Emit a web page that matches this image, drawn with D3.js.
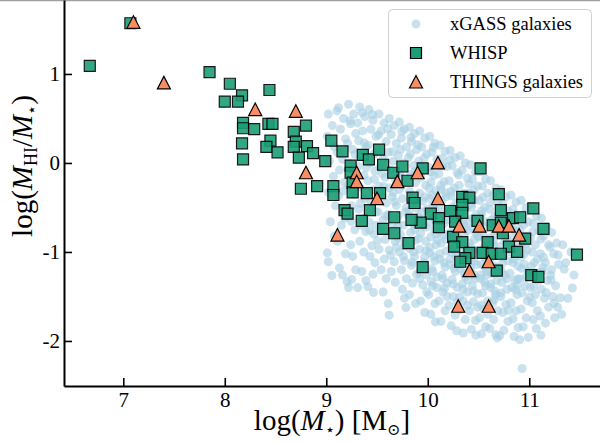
<!DOCTYPE html>
<html>
<head>
<meta charset="utf-8">
<script src="https://cdn.jsdelivr.net/npm/d3@7"></script>
<style>
  body { margin: 0; background: #fff; }
  svg { display: block; overflow: hidden; }
  .axis path, .axis line { stroke: #000; }
  .axis text { font-family: "Liberation Serif", "DejaVu Serif", serif; font-size: 21px; fill: #000; }
  .label text { font-family: "Liberation Serif", "DejaVu Serif", serif; fill: #000; }
  .legend text { font-family: "Liberation Serif", "DejaVu Serif", serif; font-size: 18.5px; fill: #000; }
</style>
</head>
<body>
<div id="chart"></div>
<script>
// xGASS galaxies: [log M*, log(MHI/M*)]
const xgass = [
  [9.02,0.55],[9.06,0.42],[9.01,0.30],[9.08,0.18],[9.03,0.02],[9.07,-0.15],[9.02,-0.33],[9.09,-0.48],[9.04,-0.66],[9.01,-1.01],[9.02,-1.11],[9.08,-0.82],
  [9.12,0.62],[9.17,0.50],[9.14,0.38],[9.19,0.27],[9.11,0.12],[9.16,0.04],[9.13,-0.08],[9.18,-0.22],[9.12,-0.37],[9.17,-0.52],[9.15,-0.70],[9.11,-0.88],[9.19,-1.02],[9.16,-1.26],[9.13,-1.18],[9.18,-0.62],
  [9.22,0.66],[9.27,0.55],[9.24,0.44],[9.29,0.33],[9.21,0.22],[9.26,0.15],[9.23,0.00],[9.28,-0.10],[9.22,-0.25],[9.27,-0.35],[9.25,-0.48],[9.21,-0.60],[9.28,-0.75],[9.24,-0.92],[9.26,-1.05],[9.25,-1.31],[9.29,-1.20],[9.22,-1.40],
  [9.33,0.63],[9.38,0.52],[9.31,0.45],[9.36,0.36],[9.32,0.25],[9.39,0.18],[9.34,0.08],[9.31,-0.04],[9.37,-0.14],[9.33,-0.27],[9.38,-0.40],[9.32,-0.52],[9.36,-0.63],[9.39,-0.77],[9.33,-0.88],[9.37,-1.00],[9.31,-1.40],[9.35,-1.22],[9.39,-1.32],[9.34,-0.70],
  [9.42,0.60],[9.46,0.48],[9.44,0.38],[9.49,0.30],[9.41,0.20],[9.47,0.10],[9.43,0.00],[9.48,-0.09],[9.41,-0.20],[9.46,-0.30],[9.44,-0.43],[9.49,-0.55],[9.42,-0.66],[9.47,-0.80],[9.45,-0.93],[9.48,-1.12],[9.41,-1.39],[9.43,-1.05],[9.46,-1.25],[9.49,-0.70],
  [9.52,0.55],[9.57,0.45],[9.54,0.36],[9.59,0.24],[9.51,0.14],[9.56,0.05],[9.53,-0.05],[9.58,-0.16],[9.52,-0.26],[9.55,-0.36],[9.59,-0.45],[9.51,-0.55],[9.56,-0.64],[9.53,-0.75],[9.58,-0.86],[9.52,-0.97],[9.57,-1.08],[9.54,-1.20],[9.59,-1.30],[9.56,-1.45],[9.51,-0.42],[9.55,-0.12],
  [9.62,0.50],[9.67,0.42],[9.64,0.32],[9.69,0.22],[9.61,0.12],[9.66,0.02],[9.63,-0.08],[9.68,-0.18],[9.62,-0.28],[9.65,-0.38],[9.69,-0.48],[9.61,-0.58],[9.66,-0.68],[9.63,-0.78],[9.68,-0.88],[9.62,-0.98],[9.67,-1.11],[9.64,-1.22],[9.68,-1.34],[9.61,-1.58],[9.62,-1.71],[9.66,-0.33],[9.64,-0.62],[9.69,-0.95],
  [9.72,0.46],[9.77,0.38],[9.74,0.28],[9.79,0.18],[9.71,0.08],[9.76,0.00],[9.73,-0.10],[9.78,-0.20],[9.72,-0.30],[9.75,-0.40],[9.79,-0.50],[9.71,-0.60],[9.76,-0.70],[9.73,-0.80],[9.78,-0.90],[9.72,-1.00],[9.77,-1.10],[9.74,-1.20],[9.79,-1.30],[9.75,-1.42],[9.78,-0.55],[9.74,-0.25],[9.71,-0.85],[9.76,-1.05],[9.73,0.15],[9.77,-1.52],
  [9.82,0.40],[9.87,0.33],[9.84,0.24],[9.89,0.15],[9.81,0.06],[9.86,-0.03],[9.83,-0.13],[9.88,-0.22],[9.82,-0.32],[9.85,-0.41],[9.89,-0.51],[9.81,-0.60],[9.86,-0.69],[9.83,-0.78],[9.88,-0.87],[9.82,-0.96],[9.87,-1.05],[9.84,-1.15],[9.89,-1.25],[9.85,-1.35],[9.82,-1.48],[9.88,-1.58],[9.84,-0.45],[9.87,-0.75],[9.81,-0.20],[9.86,-1.00],[9.83,0.10],[9.89,-0.62],
  [9.92,0.36],[9.97,0.28],[9.94,0.18],[9.99,0.10],[9.91,0.02],[9.96,-0.07],[9.93,-0.16],[9.98,-0.25],[9.92,-0.34],[9.95,-0.43],[9.99,-0.52],[9.91,-0.61],[9.96,-0.70],[9.93,-0.79],[9.98,-0.88],[9.92,-0.97],[9.97,-1.06],[9.94,-1.16],[9.99,-1.26],[9.95,-1.37],[9.99,-1.45],[9.93,-1.55],[9.97,-1.68],[9.94,-0.55],[9.97,-0.38],[9.91,-0.85],[9.96,-1.12],[9.94,-0.05],[9.98,-0.72],[9.92,-1.30],
  [10.02,0.30],[10.07,0.22],[10.04,0.12],[10.09,0.04],[10.01,-0.05],[10.06,-0.14],[10.03,-0.22],[10.08,-0.31],[10.02,-0.40],[10.05,-0.48],[10.09,-0.57],[10.01,-0.66],[10.06,-0.74],[10.03,-0.83],[10.08,-0.92],[10.02,-1.01],[10.07,-1.10],[10.04,-1.19],[10.09,-1.28],[10.05,-1.38],[10.01,-1.48],[10.07,-1.58],[10.03,-1.70],[10.06,-0.62],[10.04,-0.36],[10.08,-0.80],[10.02,-0.95],[10.06,-1.05],[10.09,-1.40],[10.03,-0.10],[10.07,-0.52],[10.05,-1.22],
  [10.12,0.20],[10.17,0.13],[10.14,0.05],[10.19,-0.04],[10.11,-0.12],[10.16,-0.21],[10.13,-0.30],[10.18,-0.38],[10.12,-0.47],[10.15,-0.55],[10.19,-0.64],[10.11,-0.72],[10.16,-0.81],[10.13,-0.90],[10.18,-0.99],[10.12,-1.08],[10.17,-1.17],[10.14,-1.26],[10.19,-1.35],[10.15,-1.45],[10.11,-1.55],[10.17,-1.66],[10.13,-1.78],[10.16,-0.68],[10.14,-0.42],[10.18,-0.86],[10.12,-1.02],[10.16,-1.12],[10.19,-1.50],[10.13,-0.25],[10.17,-0.60],[10.15,-1.30],
  [10.22,0.14],[10.27,0.06],[10.24,-0.03],[10.29,-0.11],[10.21,-0.20],[10.26,-0.28],[10.23,-0.37],[10.28,-0.45],[10.22,-0.54],[10.25,-0.62],[10.29,-0.71],[10.21,-0.79],[10.26,-0.88],[10.23,-0.96],[10.28,-1.05],[10.22,-1.14],[10.27,-1.22],[10.24,-1.31],[10.29,-1.40],[10.25,-1.50],[10.21,-1.60],[10.27,-1.71],[10.23,-1.83],[10.26,-0.75],[10.24,-0.50],[10.28,-0.92],[10.22,-1.08],[10.26,-1.18],[10.29,-1.56],[10.23,-0.32],[10.27,-0.66],[10.25,-1.36],
  [10.32,0.08],[10.37,0.00],[10.34,-0.08],[10.39,-0.17],[10.31,-0.25],[10.36,-0.34],[10.33,-0.42],[10.38,-0.51],[10.32,-0.59],[10.35,-0.68],[10.39,-0.76],[10.31,-0.85],[10.36,-0.93],[10.33,-1.02],[10.38,-1.10],[10.32,-1.19],[10.37,-1.28],[10.34,-1.36],[10.39,-1.45],[10.35,-1.55],[10.31,-1.65],[10.37,-1.76],[10.35,-1.91],[10.36,-0.80],[10.34,-0.55],[10.38,-0.98],[10.32,-1.14],[10.36,-1.24],[10.39,-1.60],[10.33,-0.38],[10.37,-0.72],[10.35,-1.42],
  [10.42,-0.02],[10.47,-0.10],[10.44,-0.18],[10.49,-0.26],[10.41,-0.34],[10.46,-0.42],[10.43,-0.50],[10.48,-0.58],[10.42,-0.66],[10.45,-0.74],[10.49,-0.82],[10.41,-0.90],[10.46,-0.98],[10.43,-1.06],[10.48,-1.14],[10.42,-1.22],[10.47,-1.30],[10.44,-1.38],[10.49,-1.47],[10.45,-1.56],[10.41,-1.66],[10.47,-1.77],[10.43,-1.87],[10.46,-0.86],[10.44,-0.62],[10.48,-1.02],[10.42,-1.18],[10.46,-1.26],[10.49,-1.62],[10.43,-0.46],[10.47,-0.78],[10.45,-1.44],
  [10.52,-0.10],[10.57,-0.18],[10.54,-0.26],[10.59,-0.34],[10.51,-0.42],[10.56,-0.50],[10.53,-0.58],[10.58,-0.66],[10.52,-0.74],[10.55,-0.82],[10.59,-0.90],[10.51,-0.98],[10.56,-1.06],[10.53,-1.14],[10.58,-1.22],[10.52,-1.30],[10.57,-1.38],[10.54,-1.46],[10.59,-1.55],[10.55,-1.64],[10.51,-1.74],[10.57,-1.84],[10.53,-1.92],[10.56,-0.94],[10.54,-0.70],[10.58,-1.10],[10.52,-1.26],[10.56,-1.34],[10.59,-1.70],[10.53,-0.54],
  [10.62,-0.20],[10.67,-0.28],[10.64,-0.36],[10.69,-0.44],[10.61,-0.52],[10.66,-0.60],[10.63,-0.68],[10.68,-0.76],[10.62,-0.84],[10.65,-0.92],[10.69,-1.00],[10.61,-1.08],[10.66,-1.16],[10.63,-1.24],[10.68,-1.32],[10.62,-1.40],[10.67,-1.48],[10.64,-1.57],[10.69,-1.66],[10.65,-1.76],[10.61,-1.86],[10.67,-1.93],[10.64,-1.02],[10.66,-0.80],[10.68,-1.20],[10.62,-1.36],[10.66,-1.44],[10.63,-0.64],
  [10.72,-0.30],[10.77,-0.38],[10.74,-0.46],[10.79,-0.54],[10.71,-0.62],[10.76,-0.70],[10.73,-0.78],[10.78,-0.86],[10.72,-0.94],[10.75,-1.02],[10.79,-1.10],[10.71,-1.18],[10.76,-1.26],[10.73,-1.34],[10.78,-1.42],[10.72,-1.50],[10.77,-1.59],[10.74,-1.68],[10.79,-1.78],[10.75,-1.88],[10.71,-1.94],[10.74,-1.06],[10.76,-0.88],[10.78,-1.30],[10.72,-1.46],[10.77,-0.66],
  [10.82,-0.36],[10.87,-0.44],[10.84,-0.52],[10.89,-0.60],[10.81,-0.68],[10.86,-0.76],[10.83,-0.84],[10.88,-0.92],[10.82,-1.00],[10.85,-1.08],[10.89,-1.16],[10.81,-1.24],[10.86,-1.32],[10.83,-1.40],[10.88,-1.48],[10.82,-1.57],[10.87,-1.66],[10.84,-1.75],[10.89,-1.85],[10.85,-1.95],[10.84,-1.12],[10.86,-0.96],[10.88,-1.38],[10.83,-0.72],
  [10.92,-0.42],[10.97,-0.50],[10.94,-0.58],[10.99,-0.66],[10.91,-0.74],[10.96,-0.82],[10.93,-0.90],[10.98,-0.98],[10.92,-1.06],[10.95,-1.14],[10.99,-1.22],[10.91,-1.30],[10.96,-1.38],[10.93,-1.46],[10.98,-1.55],[10.92,-1.64],[10.97,-1.74],[10.94,-1.84],[10.99,-1.96],[10.93,-2.31],[10.95,-1.02],[10.97,-1.28],
  [11.02,-0.52],[11.07,-0.60],[11.04,-0.68],[11.09,-0.76],[11.01,-0.84],[11.06,-0.92],[11.03,-1.00],[11.08,-1.08],[11.02,-1.16],[11.05,-1.24],[11.09,-1.32],[11.01,-1.40],[11.06,-1.48],[11.03,-1.57],[11.08,-1.66],[11.04,-1.76],[11.07,-1.86],[11.05,-1.12],
  [11.12,-0.62],[11.17,-0.72],[11.14,-0.82],[11.19,-0.92],[11.11,-1.02],[11.16,-1.12],[11.13,-1.22],[11.18,-1.32],[11.12,-1.42],[11.15,-1.52],[11.19,-1.62],[11.11,-1.72],[11.16,-1.80],[11.14,-1.06],
  [11.22,-0.78],[11.27,-0.90],[11.24,-1.02],[11.29,-1.14],[11.21,-1.26],[11.26,-1.38],[11.23,-1.50],[11.28,-1.62],[11.25,-1.74],[11.22,-1.20],
  [11.33,-0.92],[11.41,-1.00],[11.36,-1.12],[11.44,-1.26],[11.38,-1.52],[11.32,-1.70],
  [9.105,0.585],[9.235,0.475],[9.355,0.565],[9.455,0.545],[9.285,0.095],[9.395,-0.055],[9.515,0.315],[9.605,0.385],[9.655,0.125],[9.745,0.355],
  [9.835,0.285],[9.905,0.205],[9.965,0.055],[10.055,0.175],[10.145,-0.035],[10.215,0.035],[10.305,-0.135],[10.405,-0.235],[10.455,-0.305],[10.545,-0.385],
  [10.615,-0.445],[10.705,-0.505],[10.785,-0.605],[10.855,-0.575],[10.945,-0.695],[11.035,-0.775],[11.115,-0.855],[11.205,-0.945],[11.285,-1.035],[11.345,-1.195],
  [9.165,-0.315],[9.245,-0.655],[9.335,-0.455],[9.425,-0.755],[9.505,-0.875],[9.585,-0.595],[9.635,-1.035],[9.705,-0.715],[9.765,-0.935],[9.845,-1.115],
  [9.915,-1.235],[9.985,-0.985],[10.035,-1.335],[10.095,-0.865],[10.165,-1.405],[10.235,-1.005],[10.315,-1.505],[10.395,-1.315],[10.455,-1.105],[10.525,-1.595],
  [10.585,-1.255],[10.655,-1.535],[10.725,-1.215],[10.795,-1.655],[10.865,-1.425],[10.925,-1.185],[11.005,-1.505],[11.085,-1.235],[11.165,-1.455],[11.245,-1.575],
  [9.375,0.225],[9.475,-0.185],[9.565,-0.265],[9.675,-0.435],[9.725,-0.165],[9.815,-0.545],[9.875,-0.095],[9.945,-0.635],[10.015,-0.285],[10.115,-0.775],
  [10.175,-0.335],[10.255,-0.845],[10.345,-0.645],[10.425,-0.945],[10.505,-0.835],[10.565,-1.175],[10.645,-0.885],[10.735,-1.125],[10.815,-0.935],[10.885,-1.305],
  [10.965,-0.915],[11.045,-1.385],[11.135,-1.175],[11.215,-1.315],
  [9.055,-1.265],[9.205,-1.335],[9.465,-1.455],[9.785,-1.625],[10.075,-1.785],[10.285,-1.885],[10.475,-1.935],[10.685,-1.965],[10.905,-1.985],[11.115,-1.935],
  [11.305,-1.515],[11.425,-1.405]
];

// WHISP galaxies
const whisp = [
  [6.67,1.09],[7.07,1.57],[7.85,1.02],[8.05,0.89],[8.17,0.76],[8.00,0.69],[8.13,0.69],[8.44,0.82],
  [8.18,0.45],[8.18,0.39],[8.29,0.38],[8.43,0.44],[8.47,0.44],[8.68,0.35],[8.80,0.42],[8.17,0.22],
  [8.45,0.25],[8.41,0.18],[8.52,0.12],[8.18,0.04],[8.70,0.24],[8.68,0.18],[8.81,0.19],[8.87,0.11],
  [8.73,0.06],[9.05,0.25],[9.16,0.13],[8.99,0.02],[8.75,-0.29],[8.91,-0.26],[9.07,-0.26],[9.07,-0.36],
  [9.24,-0.03],[9.24,-0.11],[9.36,0.09],[9.42,0.04],[9.52,0.15],[9.56,-0.02],[9.66,-0.11],[9.26,-0.22],
  [9.26,-0.33],[9.40,-0.34],[9.53,-0.34],[9.18,-0.53],[9.21,-0.57],[9.43,-0.53],[9.35,-0.65],[9.75,-0.04],
  [9.95,-0.06],[9.80,-0.20],[10.52,-0.06],[9.85,-0.39],[9.87,-0.45],[10.34,-0.38],[10.41,-0.39],[10.34,-0.47],
  [10.70,-0.35],[11.04,-0.51],[10.22,-0.54],[10.34,-0.56],[10.03,-0.57],[10.11,-0.62],[10.11,-0.72],[9.93,-0.67],
  [9.84,-0.64],[9.67,-0.61],[9.56,-0.74],[9.67,-0.79],[9.81,-0.90],[10.49,-0.65],[10.64,-0.70],[10.72,-0.67],
  [10.74,-0.79],[10.84,-0.62],[10.91,-0.61],[10.72,-0.53],[11.14,-0.74],[10.96,-0.85],[10.25,-0.83],[10.34,-0.89],
  [10.26,-0.94],[10.59,-0.89],[10.80,-0.94],[10.88,-1.00],[10.41,-1.01],[10.54,-1.01],[10.63,-1.02],[10.72,-1.02],
  [10.37,-1.07],[11.47,-1.03],[10.27,-0.66],[9.95,-1.17],[10.32,-1.11],[10.68,-1.21],[11.02,-1.26],[11.09,-1.28]
];

// THINGS galaxies
const things = [
  [7.10,1.58],[7.40,0.90],[8.30,0.60],[8.70,0.58],[8.80,-0.11],[9.11,-0.81],[9.30,-0.11],[9.30,-0.21],
  [9.70,-0.21],[9.50,-0.40],[9.90,-0.11],[10.10,0.00],[10.10,-0.40],[10.31,-0.71],[10.51,-0.71],[10.70,-0.71],
  [10.80,-0.71],[10.90,-0.81],[10.60,-1.11],[10.41,-1.21],[10.30,-1.61],[10.60,-1.61]
];

const xTicks = [7, 8, 9, 10, 11];
const yTicks = [-2, -1, 0, 1];
const legendLabels = ["xGASS galaxies", "WHISP", "THINGS galaxies"];

// Axis label pieces: text, italic, font size, baseline shift
const xLabelParts = [
  { t: "log(", size: 29, shift: 0 },
  { t: "M", italic: true, size: 29, shift: 0 },
  { t: "⋆", size: 16, shift: 5 },
  { t: ") [M", size: 29, shift: 0 },
  { t: "⊙", size: 16, shift: 5 },
  { t: "]", size: 29, shift: 0 }
];
const yLabelParts = [
  { t: "log(", size: 29, shift: 0 },
  { t: "M", italic: true, size: 29, shift: 0 },
  { t: "HI", size: 18, shift: 5 },
  { t: "/", size: 29, shift: 0 },
  { t: "M", italic: true, size: 29, shift: 0 },
  { t: "⋆", size: 16, shift: 5 },
  { t: ")", size: 29, shift: 0 }
];

// Layout
const width = 600;
const height = 443;
const margin = { top: 0, right: 0, bottom: 57, left: 64 };
const innerWidth = width - margin.left - margin.right;
const innerHeight = height - margin.top - margin.bottom;

const colors = { xgass: "#a6cee3", whisp: "#1b9e77", things: "#fc8d62" };

const squarePath = "M-5.5,-5.5H5.5V5.5H-5.5Z";
const trianglePath = "M0,-6.5L6.5,6L-6.5,6Z";

let svg = null;
let plot = null;
let xScale = null;
let yScale = null;

function initializeSvg() {
  svg = d3.select("#chart").append("svg")
    .attr("width", width)
    .attr("height", height);

  // thin grey frame line along the top edge
  svg.append("line")
    .attr("x1", 0).attr("x2", width)
    .attr("y1", 0.5).attr("y2", 0.5)
    .attr("stroke", "#a0a0a0")
    .attr("stroke-width", 1.5);

  plot = svg.append("g")
    .attr("transform", `translate(${margin.left},${margin.top})`);
}

function initializeScales() {
  xScale = d3.scaleLinear().domain([6.416, 11.697]).range([0, innerWidth]);
  yScale = d3.scaleLinear().domain([-2.506, 1.831]).range([innerHeight, 0]);
}

function drawPoints() {
  plot.append("g").selectAll("circle")
    .data(xgass)
    .join("circle")
    .attr("cx", (d) => xScale(d[0]))
    .attr("cy", (d) => yScale(d[1]))
    .attr("r", 4.5)
    .attr("fill", colors.xgass)
    .attr("fill-opacity", 0.6);

  plot.append("g").selectAll("path")
    .data(whisp)
    .join("path")
    .attr("transform", (d) => `translate(${xScale(d[0])},${yScale(d[1])})`)
    .attr("d", squarePath)
    .attr("fill", colors.whisp)
    .attr("stroke", "#000")
    .attr("stroke-width", 1.2)
    .attr("opacity", 0.9);

  plot.append("g").selectAll("path")
    .data(things)
    .join("path")
    .attr("transform", (d) => `translate(${xScale(d[0])},${yScale(d[1])})`)
    .attr("d", trianglePath)
    .attr("fill", colors.things)
    .attr("stroke", "#000")
    .attr("stroke-width", 1.2);
}

// Lay out a label made of separate text pieces, centred on the group origin.
function richLabel(parent, parts, transform) {
  const g = parent.append("g").attr("class", "label").attr("transform", transform);
  const pieces = parts.map((p) => g.append("text")
    .attr("font-size", p.size)
    .attr("font-style", p.italic ? "italic" : null)
    .attr("y", p.shift)
    .text(p.t));
  const widths = pieces.map((s) => s.node().getComputedTextLength());
  const total = d3.sum(widths);
  let cursor = -total / 2;
  pieces.forEach((s, i) => {
    s.attr("x", cursor);
    cursor += widths[i];
  });
}

function drawAxes() {
  const xAxis = plot.append("g")
    .attr("class", "axis")
    .attr("transform", `translate(0,${innerHeight})`)
    .call(d3.axisBottom(xScale)
      .tickValues(xTicks)
      .tickFormat((d) => String(d))
      .tickSize(-8)
      .tickSizeOuter(0)
      .tickPadding(6));

  const yAxis = plot.append("g")
    .attr("class", "axis")
    .call(d3.axisLeft(yScale)
      .tickValues(yTicks)
      .tickFormat((d) => String(d))
      .tickSize(-8)
      .tickSizeOuter(0)
      .tickPadding(4));

  [xAxis, yAxis].forEach((g) => {
    g.select(".domain").attr("stroke-width", 2);
    g.selectAll(".tick line").attr("stroke-width", 1.6);
  });

  richLabel(svg, xLabelParts, `translate(${margin.left + innerWidth / 2},430)`);
  richLabel(svg, yLabelParts, "translate(32,166) rotate(-90)");
}

function drawLegend() {
  const lg = svg.append("g").attr("class", "legend");
  lg.append("rect")
    .attr("x", 388.5).attr("y", 9.5)
    .attr("width", 203).attr("height", 88)
    .attr("rx", 4)
    .attr("fill", "#fff").attr("fill-opacity", 0.8)
    .attr("stroke", "#d0d0d0");

  const rowY = [24, 53, 82];
  lg.append("circle")
    .attr("cx", 416).attr("cy", rowY[0]).attr("r", 4.5)
    .attr("fill", colors.xgass).attr("fill-opacity", 0.6);
  lg.append("path")
    .attr("transform", `translate(416,${rowY[1]})`)
    .attr("d", squarePath)
    .attr("fill", colors.whisp).attr("stroke", "#000").attr("stroke-width", 1.2);
  lg.append("path")
    .attr("transform", `translate(416,${rowY[2]})`)
    .attr("d", trianglePath)
    .attr("fill", colors.things).attr("stroke", "#000").attr("stroke-width", 1.2);

  lg.selectAll("text")
    .data(legendLabels)
    .join("text")
    .attr("x", 450)
    .attr("y", (d, i) => rowY[i] + 6)
    .text((d) => d);
}

initializeSvg();
initializeScales();
drawPoints();
drawAxes();
drawLegend();
</script>
</body>
</html>
